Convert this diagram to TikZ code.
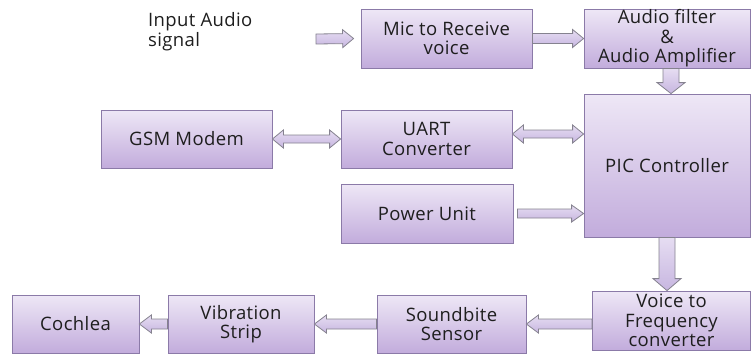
\documentclass[tikz,border=0pt]{standalone}
\usepackage{fontspec}
\setmainfont{Open Sans}[LetterSpace=2]
\usetikzlibrary{calc}
\definecolor{boxtop}{HTML}{EEE7F6}
\definecolor{boxbot}{HTML}{C2ACDC}
\definecolor{boxline}{HTML}{8B7AA8}
\definecolor{arrtop}{HTML}{E6DDF2}
\definecolor{arrbot}{HTML}{C7B6E0}
\definecolor{arrline}{HTML}{85828F}
\definecolor{txt}{HTML}{1E1E1E}
\begin{document}
\begin{tikzpicture}[x=1pt,y=-1pt,
    block/.style={draw=boxline, line width=0.8pt, top color=boxtop, bottom color=boxbot,
      text=txt, align=center, inner sep=0pt, font=\fontsize{18.5}{19.5}\selectfont},
    fat/.style n args={3}{draw=arrline, top color=arrtop, bottom color=arrbot, line width=0.8pt,
      to path={($(\tikztostart)!#1!-90:(\tikztotarget)$)
        -- ($(\tikztotarget)!#3!(\tikztostart)!#1!90:(\tikztostart)$)
        -- ($(\tikztotarget)!#3!(\tikztostart)!#2!90:(\tikztostart)$)
        -- (\tikztotarget)
        -- ($(\tikztotarget)!#3!(\tikztostart)!#2!-90:(\tikztostart)$)
        -- ($(\tikztotarget)!#3!(\tikztostart)!#1!-90:(\tikztostart)$)
        -- ($(\tikztostart)!#1!90:(\tikztotarget)$) -- cycle}},
    fatboth/.style n args={3}{draw=arrline, top color=arrtop, bottom color=arrbot, line width=0.8pt,
      to path={(\tikztostart)
        -- ($(\tikztostart)!#3!(\tikztotarget)!#2!-90:(\tikztotarget)$)
        -- ($(\tikztostart)!#3!(\tikztotarget)!#1!-90:(\tikztotarget)$)
        -- ($(\tikztotarget)!#3!(\tikztostart)!#1!90:(\tikztostart)$)
        -- ($(\tikztotarget)!#3!(\tikztostart)!#2!90:(\tikztostart)$)
        -- (\tikztotarget)
        -- ($(\tikztotarget)!#3!(\tikztostart)!#2!-90:(\tikztostart)$)
        -- ($(\tikztotarget)!#3!(\tikztostart)!#1!-90:(\tikztostart)$)
        -- ($(\tikztostart)!#3!(\tikztotarget)!#1!90:(\tikztotarget)$)
        -- ($(\tikztostart)!#3!(\tikztotarget)!#2!90:(\tikztotarget)$) -- cycle}}]
  \useasboundingbox (0,0) rectangle (751,354);

  % top row
  \node[text=txt, align=left, anchor=west, inner sep=0pt, font=\fontsize{18.5}{20}\selectfont] (insig) at (148,32) {Input Audio\\signal};
  \node[block, minimum width=171, minimum height=59] (mic) at (446.5,38.5) {Mic to Receive\\voice};
  \node[block, minimum width=166, minimum height=59] (filter) at (667,38.5) {Audio filter\\\&\\Audio Amplifier};

  % middle
  \node[block, minimum width=171, minimum height=58] (gsm) at (186.5,139) {GSM Modem};
  \node[block, minimum width=171, minimum height=58] (uart) at (426.5,139) {UART\\Converter};
  \node[block, minimum width=172, minimum height=59] (power) at (427,213.5) {Power Unit};
  \node[block, minimum width=166, minimum height=143] (pic) at (667,165.5) {PIC Controller};

  % bottom row
  \node[block, minimum width=158, minimum height=59] (voice) at (671.5,320.5) {Voice to\\Frequency\\converter};
  \node[block, minimum width=149, minimum height=58] (sound) at (451.5,324) {Soundbite\\Sensor};
  \node[block, minimum width=146, minimum height=58] (vib) at (241,324) {Vibration\\Strip};
  \node[block, minimum width=127, minimum height=58] (coch) at (75.5,324) {Cochlea};

  \coordinate (in) at (316,39);
  \coordinate (u1) at ([yshift=5pt]uart.east);
  \coordinate (u2) at (u1 -| pic.west);
  \coordinate (p1) at (power.east -| pic.west);
  \coordinate (v1) at (pic.south |- voice.north);
  \coordinate (s1) at (sound.east -| voice.west);

  \draw[fat={5pt}{9pt}{11pt}] (in) to ([xshift=-7pt]mic.west);
  \draw[fat={5pt}{9pt}{11pt}] (mic.east) to (filter.west);
  \draw[fat={8pt}{14pt}{11pt}] ([xshift=4pt]filter.south) to ([xshift=4pt]pic.north);
  \draw[fatboth={4pt}{9pt}{11pt}] (gsm.east) to (uart.west);
  \draw[fatboth={4pt}{9pt}{11pt}] (u1) to (u2);
  \draw[fat={4.5pt}{8.5pt}{12pt}] ([xshift=4pt]power.east) to (p1);
  \draw[fat={8pt}{14pt}{12pt}] (pic.south) to (v1);
  \draw[fat={5pt}{9pt}{12pt}] (s1) to (sound.east);
  \draw[fat={5pt}{9pt}{12pt}] (sound.west) to (vib.east);
  \draw[fat={5pt}{9pt}{12pt}] (vib.west) to (coch.east);
\end{tikzpicture}
\end{document}
